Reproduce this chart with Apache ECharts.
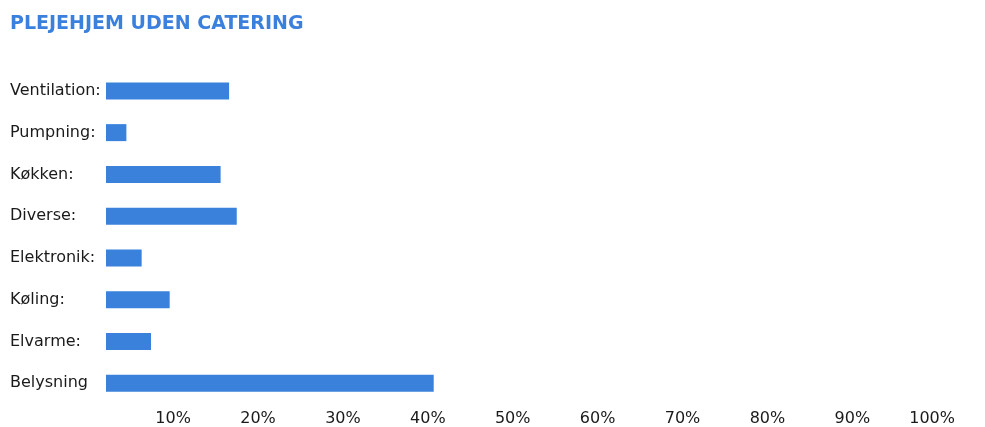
<!DOCTYPE html>
<html>
<head>
<meta charset="utf-8">
<script src="https://cdn.jsdelivr.net/npm/echarts@6/dist/echarts.min.js"></script>
<style>
html,body{margin:0;padding:0;background:#fff;}
#chart{width:985px;height:427px;}
</style>
</head>
<body>
<div id="chart"></div>
<script>
const titleText = 'PLEJEHJEM UDEN CATERING';
const categories = ['Ventilation:', 'Pumpning:', 'Køkken:', 'Diverse:', 'Elektronik:', 'Køling:', 'Elvarme:', 'Belysning'];
const values = [14.5, 2.4, 13.5, 15.4, 4.2, 7.5, 5.3, 38.6];
const tickValues = [10, 20, 30, 40, 50, 60, 70, 80, 90, 100];

const chart = echarts.init(document.getElementById('chart'));
chart.setOption({
  animation: false,
  backgroundColor: '#ffffff',
  title: {
    text: titleText,
    left: 5,
    top: 10,
    textStyle: { fontFamily: 'DejaVu Sans', fontWeight: 'bold', fontSize: 19, color: '#3a80dc' }
  },
  grid: { left: 106, right: 30, top: 70, bottom: 21, containLabel: false },
  xAxis: {
    type: 'value',
    min: 0,
    max: 100,
    interval: 10,
    axisLine: { show: false },
    axisTick: { show: false },
    splitLine: { show: false },
    axisLabel: {
      margin: 7,
      align: 'right',
      fontFamily: 'DejaVu Sans',
      fontSize: 16,
      color: '#1a1a1a',
      formatter: v => tickValues.indexOf(v) >= 0 ? v + '%' : ''
    }
  },
  yAxis: {
    type: 'category',
    data: categories,
    inverse: true,
    axisLine: { show: false },
    axisTick: { show: false },
    splitLine: { show: false },
    axisLabel: {
      margin: 96,
      align: 'left',
      fontFamily: 'DejaVu Sans',
      fontSize: 16,
      color: '#1a1a1a'
    }
  },
  series: [{
    type: 'bar',
    data: values,
    barWidth: 17,
    itemStyle: { color: '#3a81dc' }
  }]
});
</script>
</body>
</html>
